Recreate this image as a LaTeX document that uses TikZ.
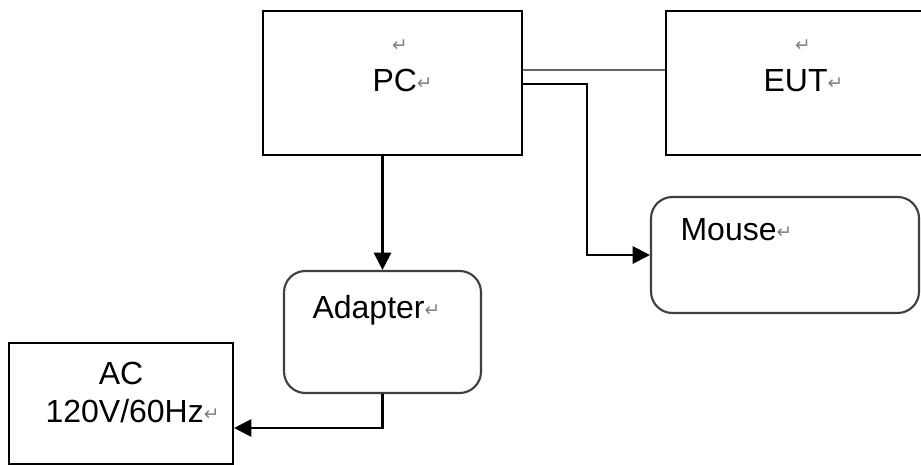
\documentclass[tikz,border=0pt]{standalone}
\usepackage{fontspec}
\setmainfont{Liberation Sans}
\newfontfamily\symfont{DejaVu Sans}
\usetikzlibrary{arrows.meta,fit}
\newcommand{\retmark}{{\symfont\fontsize{7}{8}\selectfont\color{gray}\raisebox{0.8pt}{↵}}}
\tikzset{
  box/.style={draw,line width=0.8pt,inner sep=0pt},
  rbox/.style={draw=black!75,line width=0.8pt,inner sep=0pt,rounded corners=8pt},
  link/.style={line width=0.8pt,-{Triangle[length=6.5pt,width=6.5pt]}},
  txt/.style={anchor=base west,inner sep=0pt,font=\fontsize{12}{14}\selectfont}
}
\begin{document}
\begin{tikzpicture}[x=0.375pt,y=-0.375pt]
\useasboundingbox (0,0) rectangle (921,465);
\clip (0,0) rectangle (921,465);
% boxes
\node[box,fit={(263,11) (522,155)}] (pc) {};
\node[box,fit={(666,11) (935,155)}] (eut) {};
\node[rbox,fit={(651,197) (919,313)}] (mouse) {};
\node[rbox,fit={(284,271) (481,393)}] (adapter) {};
\node[box,fit={(9,343) (233,464)}] (ac) {};
% texts
\foreach \x/\n in {400/pcret,803/eutret}{
	\node[inner sep=0pt] (\n) at (\x,47) {\retmark};}
\node[txt] (pctxt) at (372,92) {PC\retmark};
\node[txt] (euttxt) at (763,92) {EUT\retmark};
\node[txt] (mousetxt) at (680,241) {Mouse\retmark};
\node[txt] (adaptertxt) at (312,319) {Adapter\retmark};
\node[txt,anchor=base] (actxt) at (121,385) {AC};
\node[txt] (acvtxt) at (45,423) {120V/60Hz\retmark};
% links
\coordinate (bend) at (587,0);
\draw[black!60,line width=1.1pt] (pc.east |- 0,70) -- (eut.west |- 0,70);
\draw[link] (pc.east |- 0,84) -| (bend |- mouse.west) -- (mouse.west);
\draw[link] (pc.south -| adapter.north) -- (adapter.north);
\draw[link] (adapter.south) |- (ac.east |- 0,428);
\end{tikzpicture}
\end{document}
